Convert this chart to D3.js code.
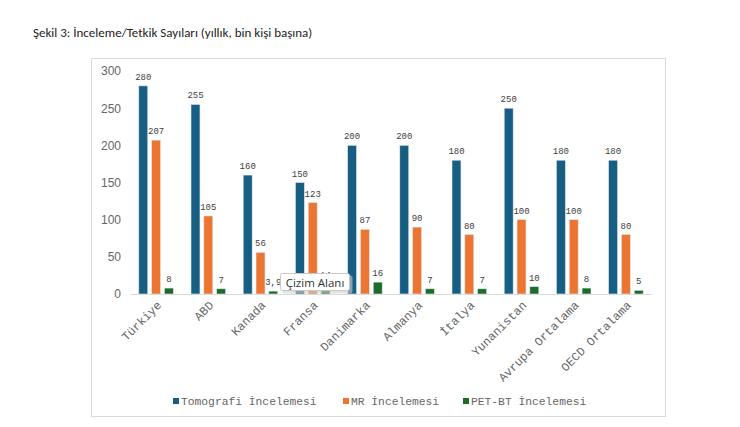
<!DOCTYPE html>
<html><head><meta charset="utf-8">
<script src="https://cdn.jsdelivr.net/npm/d3@7"></script>
<style>body{margin:0;background:#fff}svg{display:block}</style>
</head><body>
<svg id="c" width="740" height="427"></svg>
<script>
const categories = ["Türkiye","ABD","Kanada","Fransa","Danimarka","Almanya","İtalya","Yunanistan","Avrupa Ortalama","OECD Ortalama"];
const tomografi = [280,255,160,150,200,200,180,250,180,180];
const mr = [207,105,56,123,87,90,80,100,100,80];
const petbt = [8,7,3.9,14,16,7,7,10,8,5];
const seriesNames = ["Tomografi İncelemesi","MR İncelemesi","PET-BT İncelemesi"];
const colors = ["#175e82","#ed7532","#1d6b2a"];
const yTicks = [0,50,100,150,200,250,300];
const labelFmt = v => String(v).replace(".", ",");

const series = [tomografi, mr, petbt];
const svg = d3.select("#c");

svg.append("text").attr("x",33).attr("y",37)
  .attr("font-family","Carlito, 'Open Sans', 'Noto Sans', sans-serif").attr("font-size",13)
  .attr("fill","#222").text("Şekil 3: İnceleme/Tetkik Sayıları (yıllık, bin kişi başına)");

svg.append("rect").attr("x",91.5).attr("y",58.5).attr("width",574).attr("height",358)
  .attr("fill","#fff").attr("stroke","#d9d9d9");

const x = d3.scaleBand().domain(categories).range([130,652]);
const y = d3.scaleLinear().domain([0,300]).range([294,71]);
const xi = d3.scaleBand().domain(d3.range(3)).range([-17.3,17.3]).paddingInner(0.3);

// y axis
const ya = svg.append("g").attr("transform","translate(121,0)")
  .call(d3.axisLeft(y).tickValues(yTicks).tickSize(0).tickPadding(0));
ya.select(".domain").remove();
ya.selectAll("text").attr("font-family","'Liberation Sans', Arial, sans-serif")
  .attr("font-size",12).attr("fill","#666");

// baseline
const xa = svg.append("g").attr("transform","translate(0,294)")
  .call(d3.axisBottom(x).tickSize(0).tickPadding(0));
xa.select(".domain").attr("stroke","#d9d9d9");
xa.selectAll("text")
  .attr("font-family","'Liberation Mono', 'Courier New', monospace").attr("font-size",12)
  .attr("fill","#666").attr("text-anchor","end")
  .attr("transform","translate(0,6) rotate(-45)").attr("dy","0.7em").attr("dx","0");

series.forEach((vals,si)=>{
  const g = svg.append("g");
  g.selectAll("rect").data(vals).join("rect")
    .attr("x",(d,i)=>x(categories[i])+x.bandwidth()/2+xi(si))
    .attr("y",d=>y(d)).attr("width",xi.bandwidth()).attr("height",d=>y(0)-y(d))
    .attr("fill",colors[si]).attr("stroke","#dfe8ee").attr("stroke-width",0.6);
  g.selectAll("text").data(vals).join("text")
    .attr("x",(d,i)=>x(categories[i])+x.bandwidth()/2+xi(si)+xi.bandwidth()/2)
    .attr("y",d=>y(d)-6).attr("text-anchor","middle")
    .attr("font-family","'Liberation Mono', 'Courier New', monospace").attr("font-size",9)
    .attr("fill","#404040").text(d=>labelFmt(d));
});

// legend
const legX = [173,343,463];
seriesNames.forEach((n,i)=>{
  svg.append("rect").attr("x",legX[i]).attr("y",398).attr("width",6).attr("height",6).attr("fill",colors[i]);
  svg.append("text").attr("x",legX[i]+8).attr("y",405)
    .attr("font-family","'Liberation Mono', 'Courier New', monospace").attr("font-size",11.3)
    .attr("fill","#666").text(n);
});

// tooltip
const tt = svg.append("g");
tt.append("rect").attr("x",281.5).attr("y",274.5).attr("width",70).attr("height",18).attr("rx",2)
  .attr("fill","#d0d0d0").attr("opacity",0.6).attr("transform","translate(1,1)");
tt.append("rect").attr("x",280.5).attr("y",273.5).attr("width",69).attr("height",17).attr("rx",2)
  .attr("fill","#fff").attr("stroke","#c8c8c8");
tt.append("text").attr("x",315).attr("y",286.5).attr("text-anchor","middle")
  .attr("font-family","'Open Sans', 'Noto Sans', sans-serif").attr("font-size",11.5)
  .attr("fill","#333").text("Çizim Alanı");
</script>
</body></html>
